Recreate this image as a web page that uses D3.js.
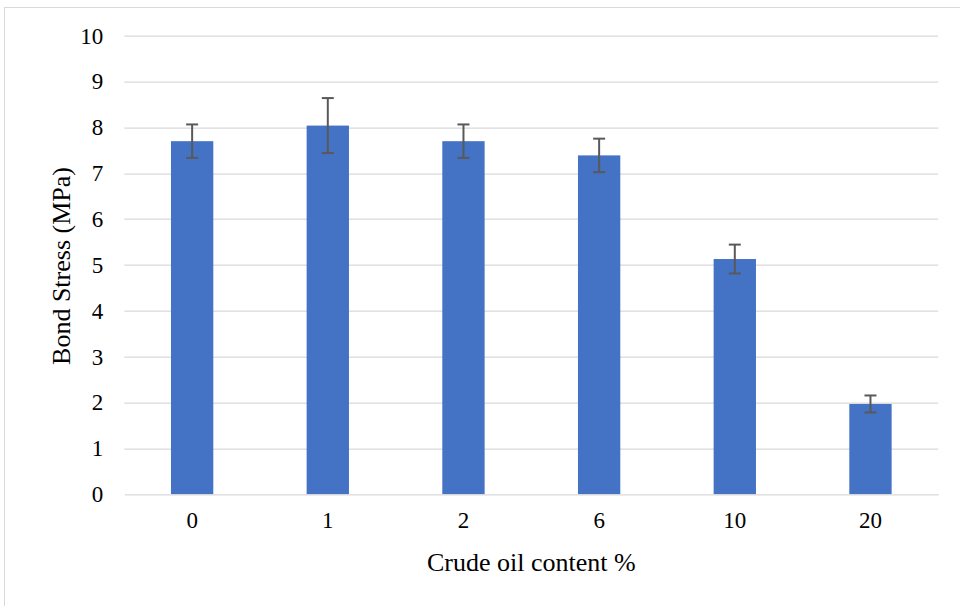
<!DOCTYPE html>
<html>
<head>
<meta charset="utf-8">
<script src="https://cdn.jsdelivr.net/npm/d3@7"></script>
<style>
  html, body { margin: 0; padding: 0; background: #fff; }
  svg { display: block; }
  svg text { font-family: "Times New Roman", "Liberation Serif", "DejaVu Serif", serif; }
</style>
</head>
<body>
<div id="graphicContainer"></div>
<script>
const categories = ["0", "1", "2", "6", "10", "20"]
const bondStress = [7.70, 8.04, 7.70, 7.39, 5.13, 1.97]
const errors = [0.365, 0.60, 0.365, 0.365, 0.315, 0.185]
const yTicks = [0, 1, 2, 3, 4, 5, 6, 7, 8, 9, 10]

const width = 960
const height = 606
const marginleft = 124.3
const marginright = 22
const margintop = 35.7
const plotHeight = 494.3 - margintop

const svg = d3.select("#graphicContainer")
  .append("svg")
  .attr("width", width)
  .attr("height", height)

// chart frame
svg.append("rect")
  .attr("x", 4.5)
  .attr("y", 7.5)
  .attr("width", width + 10)
  .attr("height", height + 10)
  .attr("fill", "none")
  .attr("stroke", "#d9d9d9")
  .attr("stroke-width", 1)

const features = svg.append("g")
  .attr("transform", "translate(" + marginleft + "," + margintop + ")")

const plotWidth = width - marginleft - marginright + 0.3

const x = d3.scaleBand()
  .domain(categories)
  .range([0, plotWidth])
  .paddingInner(0.688)
  .paddingOuter(0.344)

const y = d3.scaleLinear()
  .domain([0, 10])
  .range([plotHeight, 0])

// gridlines
features.append("g")
  .selectAll("line")
  .data(yTicks.filter(d => d > 0))
  .enter()
  .append("line")
  .attr("x1", 0)
  .attr("x2", plotWidth)
  .attr("y1", d => Math.round(y(d)) + 0.5)
  .attr("y2", d => Math.round(y(d)) + 0.5)
  .style("stroke", "#d9d9d9")
  .style("stroke-width", 1.3)

// y axis labels
const yAxis = d3.axisLeft(y)
  .tickValues(yTicks)
  .tickSize(0)
  .tickPadding(21)

const yG = features.append("g").call(yAxis)
yG.attr("font-family", null).attr("font-size", null)
yG.select(".domain").remove()
yG.selectAll("text")
  .style("font-size", "23px")
  .attr("fill", "#000")

// bars
features.selectAll(".barPart")
  .data(bondStress)
  .enter()
  .append("rect")
  .attr("class", "barPart")
  .attr("x", (d, i) => x(categories[i]))
  .attr("y", d => y(d))
  .attr("width", x.bandwidth())
  .attr("height", d => y(0) - y(d))
  .attr("fill", "#4472c4")

// error bars
const err = features.append("g")
  .selectAll("g")
  .data(bondStress)
  .enter()
  .append("g")
  .attr("transform", (d, i) => "translate(" + (x(categories[i]) + x.bandwidth() / 2) + ",0)")
  .style("stroke", "#595959")
  .style("stroke-width", 2)

err.append("line")
  .attr("x1", 0).attr("x2", 0)
  .attr("y1", (d, i) => y(d + errors[i]))
  .attr("y2", (d, i) => y(d - errors[i]))

err.append("line")
  .attr("x1", -6).attr("x2", 6)
  .attr("y1", (d, i) => y(d + errors[i]))
  .attr("y2", (d, i) => y(d + errors[i]))

err.append("line")
  .attr("x1", -6).attr("x2", 6)
  .attr("y1", (d, i) => y(d - errors[i]))
  .attr("y2", (d, i) => y(d - errors[i]))

// x axis
const xAxis = d3.axisBottom(x)
  .tickSize(0)
  .tickPadding(17)

const xG = features.append("g")
  .attr("transform", "translate(0," + plotHeight + ")")
  .call(xAxis)
xG.attr("font-family", null).attr("font-size", null)
xG.select(".domain")
  .style("stroke", "#d9d9d9")
  .style("stroke-width", 1.3)
xG.selectAll("text")
  .style("font-size", "23px")
  .attr("fill", "#000")

// axis titles
svg.append("text")
  .attr("transform", "translate(70," + (margintop + plotHeight / 2 + 1) + ") rotate(-90)")
  .attr("text-anchor", "middle")
  .style("font-size", "26px")
  .attr("fill", "#000")
  .text("Bond Stress (MPa)")

svg.append("text")
  .attr("x", marginleft + plotWidth / 2)
  .attr("y", 571)
  .attr("text-anchor", "middle")
  .style("font-size", "26px")
  .attr("fill", "#000")
  .text("Crude oil content %")
</script>
</body>
</html>
